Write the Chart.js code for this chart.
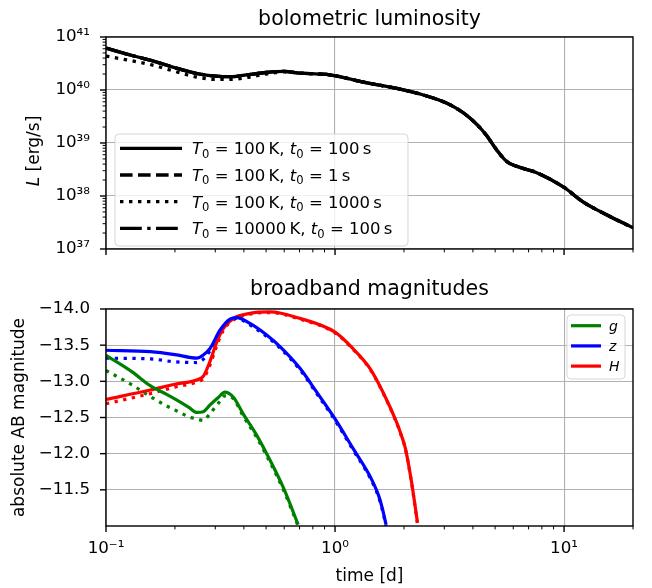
<!DOCTYPE html>
<html>
<head>
<meta charset="utf-8">
<script src="https://cdn.jsdelivr.net/npm/chart.js@4.4.0/dist/chart.umd.min.js"></script>
<style>
  html, body { margin: 0; padding: 0; background: #fff; }
  #wrap { position: relative; width: 652px; height: 588px; }
  canvas { position: absolute; left: 0; }
  #lum { top: 0; }
  #mag { top: 275px; }
</style>
</head>
<body>
<div id="wrap">
  <canvas id="lum" width="652" height="275"></canvas>
  <canvas id="mag" width="652" height="313"></canvas>
</div>
<script>
// bolometric light curve, time in days, L in erg/s
const tLum = [0.1, 0.13, 0.16, 0.2, 0.25, 0.3, 0.35, 0.42, 0.5, 0.6, 0.7, 0.85, 0.95, 1.33, 1.86,
  2.43, 3.08, 3.63, 4.16, 4.59, 5.08, 5.62, 6.21, 7.6, 10, 12.1, 15.4, 20];
// T0 = 100 K, t0 = 100 s (the t0 = 1 s and T0 = 10000 K runs sit on top of it)
const lumRef = [6.17e40, 4.47e40, 3.55e40, 2.63e40, 2.04e40, 1.82e40, 1.78e40, 1.95e40, 2.14e40, 2.24e40,
  2.09e40, 2.0e40, 1.93e40, 1.41e40, 1.07e40, 8.04e39, 5.62e39, 3.72e39, 2.24e39, 1.38e39,
  7.41e38, 4.47e38, 3.63e38, 2.75e38, 1.45e38, 7.76e37, 4.37e37, 2.51e37];
// T0 = 100 K, t0 = 1000 s
const lumLate = [4.37e40, 3.55e40, 2.95e40, 2.24e40, 1.74e40, 1.58e40, 1.58e40, 1.74e40, 2.0e40, 2.19e40,
  2.09e40, 2.0e40, 1.93e40, 1.41e40, 1.07e40, 8.04e39, 5.62e39, 3.72e39, 2.24e39, 1.38e39,
  7.41e38, 4.47e38, 3.63e38, 2.75e38, 1.45e38, 7.76e37, 4.37e37, 2.51e37];

// absolute AB magnitudes per band: reference run and t0 = 1000 s run
const tG = [0.1, 0.13, 0.156, 0.184, 0.204, 0.23, 0.249, 0.266, 0.284, 0.31, 0.33, 0.36, 0.397, 0.45, 0.503, 0.595, 0.69];
const gRef = [-13.36, -13.13, -12.94, -12.82, -12.74, -12.64, -12.57, -12.58, -12.67, -12.78, -12.85, -12.78, -12.55, -12.28, -12.0, -11.53, -11.02];
const gLate = [-13.15, -12.95, -12.79, -12.66, -12.59, -12.51, -12.48, -12.46, -12.55, -12.70, -12.80, -12.76, -12.52, -12.25, -11.97, -11.50, -11.0];

const tZ = [0.1, 0.156, 0.2, 0.249, 0.265, 0.284, 0.315, 0.348, 0.372, 0.425, 0.503, 0.575, 0.703, 0.832, 1.0, 1.2, 1.42, 1.55, 1.61, 1.67];
const zRef = [-13.43, -13.41, -13.37, -13.32, -13.36, -13.45, -13.71, -13.86, -13.88, -13.80, -13.64, -13.48, -13.18, -12.85, -12.48, -12.07, -11.69, -11.42, -11.24, -11.02];
const zLate = [-13.32, -13.31, -13.27, -13.26, -13.30, -13.42, -13.68, -13.84, -13.87, -13.78, -13.62, -13.46, -13.16, -12.83, -12.46, -12.05, -11.67, -11.40, -11.22, -11.0];

const tH = [0.1, 0.156, 0.2, 0.249, 0.266, 0.284, 0.305, 0.325, 0.36, 0.425, 0.52, 0.703, 1.0, 1.2, 1.42, 1.62, 1.86, 1.95, 2.03, 2.16, 2.29];
const hRef = [-12.75, -12.88, -12.96, -13.02, -13.07, -13.27, -13.55, -13.73, -13.87, -13.94, -13.96, -13.87, -13.68, -13.45, -13.18, -12.85, -12.43, -12.25, -12.07, -11.60, -11.05];
const hLate = [-12.69, -12.83, -12.92, -12.99, -13.04, -13.22, -13.50, -13.70, -13.85, -13.93, -13.95, -13.86, -13.67, -13.44, -13.17, -12.84, -12.42, -12.24, -12.06, -11.59, -11.03];

const magTicks = [-14.0, -13.5, -13.0, -12.5, -12.0, -11.5];

Chart.defaults.font.family = "'DejaVu Sans', sans-serif";
Chart.defaults.color = '#000';

const FONT = '"DejaVu Sans", sans-serif';
const GRID = '#b0b0b0';
const SUP = { '0': '⁰', '1': '¹', '2': '²', '3': '³', '4': '⁴', '5': '⁵', '6': '⁶', '7': '⁷', '8': '⁸', '9': '⁹', '-': '⁻' };
const isDecade = v => Math.abs(Math.log10(v) - Math.round(Math.log10(v))) < 1e-6;
const powLabel = v => '10' + String(Math.round(Math.log10(v))).split('').map(ch => SUP[ch]).join('');
const pairs = (ts, ys) => ts.map((t, i) => ({ x: t, y: ys[i] }));

// 1..9 per decade, like matplotlib's major + minor log ticks
function logTicks(min, max) {
  const out = [];
  for (let e = Math.floor(Math.log10(min)); e <= Math.ceil(Math.log10(max)); e++) {
    for (let m = 1; m < 10; m++) {
      const v = +(m * Math.pow(10, e)).toPrecision(6);
      if (v >= min * 0.999 && v <= max * 1.001) out.push({ value: v });
    }
  }
  return out;
}

// split "T₀" style symbols into italic letter + subscript
function mathParts(label, allItalic) {
  const parts = [];
  let buf = '';
  for (let i = 0; i < label.length; i++) {
    const ch = label[i];
    if (label[i + 1] === '₀') {
      if (buf) { parts.push({ t: buf }); buf = ''; }
      parts.push({ t: ch, it: true }, { t: '0', sub: true });
      i++;
    } else {
      buf += ch;
    }
  }
  if (buf) parts.push({ t: buf, it: allItalic });
  return parts;
}

function richWidth(c, parts, size) {
  let w = 0;
  parts.forEach(p => {
    c.font = (p.it ? 'italic ' : '') + (p.sub ? size * 0.7 : size) + 'px ' + FONT;
    w += c.measureText(p.t).width;
  });
  return w;
}

function drawRich(c, parts, x, y, size) {
  let cx = x;
  c.textAlign = 'left';
  c.textBaseline = 'alphabetic';
  parts.forEach(p => {
    c.font = (p.it ? 'italic ' : '') + (p.sub ? size * 0.7 : size) + 'px ' + FONT;
    c.fillText(p.t, cx, p.sub ? y + size * 0.2 : y);
    cx += c.measureText(p.t).width;
  });
}

function legendBox(c, x, y, w, h) {
  c.beginPath();
  c.roundRect(x, y, w, h, 4);
  c.fillStyle = 'rgba(255,255,255,0.8)';
  c.fill();
  c.strokeStyle = 'rgba(204,204,204,0.8)';
  c.lineWidth = 1;
  c.stroke();
}

// spines, outward tick marks and the hand-set text of each panel
function makeFrame(xMajor, yMajor, decorate) {
  return {
    id: 'frame',
    afterDraw(chart) {
      const c = chart.ctx, a = chart.chartArea;
      const xs = chart.scales.x, ys = chart.scales.y;
      c.save();
      c.strokeStyle = '#000';
      xs.ticks.forEach(t => {
        const major = xMajor(t.value);
        const px = xs.getPixelForValue(t.value);
        c.lineWidth = major ? 1.4 : 1;
        c.beginPath();
        c.moveTo(px, a.bottom);
        c.lineTo(px, a.bottom + (major ? 6 : 3.4));
        c.stroke();
      });
      ys.ticks.forEach(t => {
        const major = yMajor(t.value);
        const py = ys.getPixelForValue(t.value);
        c.lineWidth = major ? 1.4 : 1;
        c.beginPath();
        c.moveTo(a.left, py);
        c.lineTo(a.left - (major ? 6 : 3.4), py);
        c.stroke();
      });
      c.lineWidth = 1.4;
      c.strokeRect(a.left, a.top, a.right - a.left, a.bottom - a.top);
      c.fillStyle = '#000';
      decorate(c, chart);
      c.restore();
    }
  };
}

const xAxis = (showLabels, height) => ({
  type: 'logarithmic',
  min: 0.1,
  max: 20,
  afterBuildTicks: s => { s.ticks = logTicks(0.1, 20); },
  afterFit: s => { s.height = height; },
  border: { display: false },
  grid: { color: ctx => (ctx.tick && isDecade(ctx.tick.value) ? GRID : 'rgba(0,0,0,0)'), lineWidth: 1.1, drawTicks: false },
  ticks: {
    autoSkip: false, maxRotation: 0, padding: 13,
    font: { size: 16.7 },
    callback: v => (showLabels && isDecade(v) ? powLabel(v) : '')
  }
});

const baseOptions = {
  responsive: false,
  animation: false,
  events: [],
  plugins: { legend: { display: false }, tooltip: { enabled: false } },
  elements: { point: { radius: 0 }, line: { cubicInterpolationMode: 'monotone' } }
};

// --- bolometric luminosity ---
const lumRuns = [
  { label: 'T₀ = 100\u2009K, t₀ = 100\u2009s', data: lumRef, dash: [] },
  { label: 'T₀ = 100\u2009K, t₀ = 1\u2009s', data: lumRef, dash: [12.6, 5.4] },
  { label: 'T₀ = 100\u2009K, t₀ = 1000\u2009s', data: lumLate, dash: [3.4, 5.6] },
  { label: 'T₀ = 10000\u2009K, t₀ = 100\u2009s', data: lumRef, dash: [21.8, 5.4, 3.4, 5.4] }
];

new Chart(document.getElementById('lum'), {
  type: 'line',
  data: {
    datasets: lumRuns.map(r => ({
      label: r.label,
      data: pairs(tLum, r.data),
      borderColor: '#000',
      borderWidth: 3.3,
      borderDash: r.dash,
      clip: 0
    }))
  },
  options: {
    ...baseOptions,
    layout: { padding: { top: 37, right: 19, left: 0, bottom: 0 } },
    scales: {
      x: xAxis(false, 20),
      y: {
        type: 'logarithmic',
        min: 1e37,
        max: 1e41,
        afterBuildTicks: s => { s.ticks = logTicks(1e37, 1e41); },
        afterFit: s => { s.width = 106; },
        border: { display: false },
        grid: { color: ctx => (ctx.tick && isDecade(ctx.tick.value) ? GRID : 'rgba(0,0,0,0)'), lineWidth: 1.1, drawTicks: false },
        ticks: { autoSkip: false, padding: 16, font: { size: 16.7 }, callback: v => (isDecade(v) ? powLabel(v) : '') }
      }
    }
  },
  plugins: [makeFrame(isDecade, isDecade, (c, chart) => {
    const a = chart.chartArea;
    c.font = '20.5px ' + FONT;
    c.textAlign = 'center';
    c.textBaseline = 'alphabetic';
    c.fillText('bolometric luminosity', (a.left + a.right) / 2, 25);

    const yl = [{ t: 'L', it: true }, { t: ' [erg/s]' }];
    c.save();
    c.translate(39, 151);
    c.rotate(-Math.PI / 2);
    drawRich(c, yl, -richWidth(c, yl, 17) / 2, 0, 17);
    c.restore();

    legendBox(c, 115, 134, 293, 112);
    chart.data.datasets.forEach((ds, i) => {
      const y = 148.3 + i * 26.7;
      c.strokeStyle = ds.borderColor;
      c.lineWidth = ds.borderWidth;
      c.setLineDash(ds.borderDash);
      c.beginPath();
      c.moveTo(120, y);
      c.lineTo(182, y);
      c.stroke();
      c.setLineDash([]);
      c.fillStyle = '#000';
      drawRich(c, mathParts(ds.label, false), 192, y + 6, 16.5);
    });
  })]
});

// --- broadband magnitudes ---
const bands = [
  { name: 'g', color: 'green', t: tG, ref: gRef, late: gLate },
  { name: 'z', color: '#0000ff', t: tZ, ref: zRef, late: zLate },
  { name: 'H', color: '#ff0000', t: tH, ref: hRef, late: hLate }
];

const magSets = [];
bands.forEach(b => magSets.push({ label: b.name, data: pairs(b.t, b.ref), borderColor: b.color, borderWidth: 3.2, clip: 0 }));
bands.forEach(b => magSets.push({ label: b.name + ' (t0 = 1000 s)', data: pairs(b.t, b.late), borderColor: b.color, borderWidth: 3.2, borderDash: [3.3, 5.5], clip: 0 }));

new Chart(document.getElementById('mag'), {
  type: 'line',
  data: { datasets: magSets },
  options: {
    ...baseOptions,
    layout: { padding: { top: 34, right: 19, left: 0, bottom: 0 } },
    scales: {
      x: xAxis(true, 62),
      y: {
        type: 'linear',
        reverse: true,
        min: -14,
        max: -11,
        afterBuildTicks: s => { s.ticks = magTicks.map(v => ({ value: v })); },
        afterFit: s => { s.width = 106; },
        border: { display: false },
        grid: { color: GRID, lineWidth: 1.1, drawTicks: false },
        ticks: { autoSkip: false, padding: 16, font: { size: 16.7 }, callback: v => v.toFixed(1).replace('-', '\u2212') }
      }
    }
  },
  plugins: [makeFrame(isDecade, () => true, (c, chart) => {
    const a = chart.chartArea;
    const cx = (a.left + a.right) / 2;
    c.font = '20.5px ' + FONT;
    c.textAlign = 'center';
    c.textBaseline = 'alphabetic';
    c.fillText('broadband magnitudes', cx, 20);
    c.font = '17px ' + FONT;
    c.fillText('time [d]', cx, 306);

    c.save();
    c.translate(24, (a.top + a.bottom) / 2);
    c.rotate(-Math.PI / 2);
    c.fillText('absolute AB magnitude', 0, 0);
    c.restore();

    legendBox(c, 567, 40, 58, 64);
    bands.forEach((b, i) => {
      const y = 50.7 + i * 20.2;
      c.strokeStyle = b.color;
      c.lineWidth = 3.2;
      c.beginPath();
      c.moveTo(571, y);
      c.lineTo(601, y);
      c.stroke();
      c.fillStyle = '#000';
      drawRich(c, [{ t: b.name, it: true }], 609, y + 5, 14);
    });
  })]
});
</script>
</body>
</html>
